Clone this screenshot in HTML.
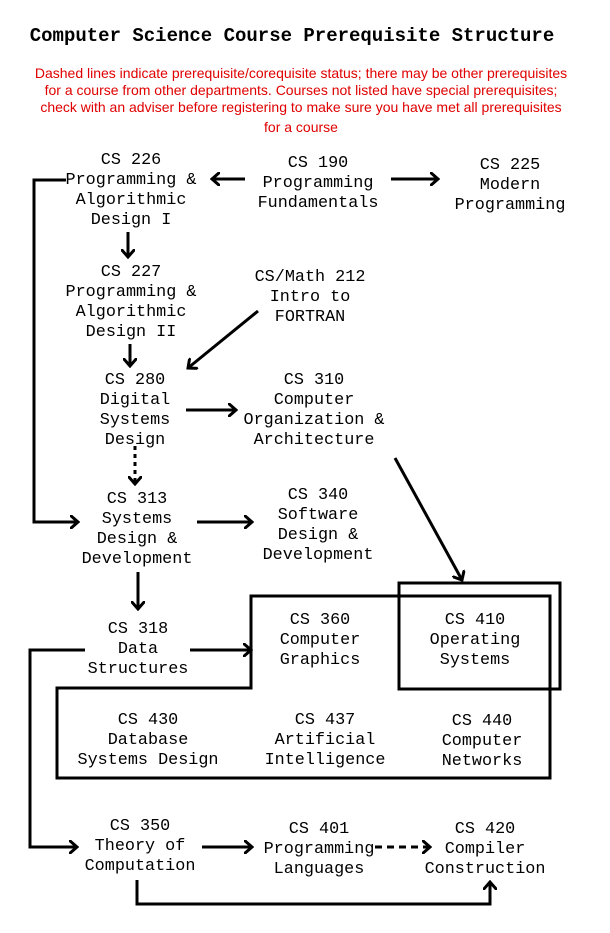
<!DOCTYPE html>
<html><head><style>body{margin:0;background:#fff}svg{display:block}</style></head><body>
<svg width="610" height="933" viewBox="0 0 610 933" xmlns="http://www.w3.org/2000/svg">
<defs><marker id="a" markerWidth="10" markerHeight="14" refX="8" refY="7" orient="auto" markerUnits="userSpaceOnUse"><path d="M0,0 L8,7 L0,14" fill="none" stroke="#000" stroke-width="3"/></marker></defs>
<text x="292" y="41" text-anchor="middle" font-family="Liberation Mono" font-weight="bold" font-size="19">Computer Science Course Prerequisite Structure</text>
<g font-family="Liberation Sans" font-size="14" fill="#e00000" text-anchor="middle">
<text x="301" y="78">Dashed lines indicate prerequisite/corequisite status; there may be other prerequisites</text>
<text x="301" y="95">for a course from other departments. Courses not listed have special prerequisites;</text>
<text x="301" y="112">check with an adviser before registering to make sure you have met all prerequisites</text>
<text x="301" y="132">for a course</text>
</g>
<g font-family="Liberation Mono" font-size="16.8" text-anchor="middle">
<text x="131" y="164">CS 226</text><text x="131" y="184">Programming &amp;</text><text x="131" y="204">Algorithmic</text><text x="131" y="224">Design I</text>
<text x="318" y="167">CS 190</text><text x="318" y="187">Programming</text><text x="318" y="207">Fundamentals</text>
<text x="510" y="169">CS 225</text><text x="510" y="189">Modern</text><text x="510" y="209">Programming</text>
<text x="131" y="276">CS 227</text><text x="131" y="296">Programming &amp;</text><text x="131" y="316">Algorithmic</text><text x="131" y="336">Design II</text>
<text x="310" y="281">CS/Math 212</text><text x="310" y="301">Intro to</text><text x="310" y="321">FORTRAN</text>
<text x="135" y="384">CS 280</text><text x="135" y="404">Digital</text><text x="135" y="424">Systems</text><text x="135" y="444">Design</text>
<text x="314" y="384">CS 310</text><text x="314" y="404">Computer</text><text x="314" y="424">Organization &amp;</text><text x="314" y="444">Architecture</text>
<text x="137" y="503">CS 313</text><text x="137" y="523">Systems</text><text x="137" y="543">Design &amp;</text><text x="137" y="563">Development</text>
<text x="318" y="499">CS 340</text><text x="318" y="519">Software</text><text x="318" y="539">Design &amp;</text><text x="318" y="559">Development</text>
<text x="138" y="633">CS 318</text><text x="138" y="653">Data</text><text x="138" y="673">Structures</text>
<text x="320" y="624">CS 360</text><text x="320" y="644">Computer</text><text x="320" y="664">Graphics</text>
<text x="475" y="624">CS 410</text><text x="475" y="644">Operating</text><text x="475" y="664">Systems</text>
<text x="148" y="724">CS 430</text><text x="148" y="744">Database</text><text x="148" y="764">Systems Design</text>
<text x="325" y="724">CS 437</text><text x="325" y="744">Artificial</text><text x="325" y="764">Intelligence</text>
<text x="482" y="725">CS 440</text><text x="482" y="745">Computer</text><text x="482" y="765">Networks</text>
<text x="140" y="830">CS 350</text><text x="140" y="850">Theory of</text><text x="140" y="870">Computation</text>
<text x="319" y="833">CS 401</text><text x="319" y="853">Programming</text><text x="319" y="873">Languages</text>
<text x="485" y="833">CS 420</text><text x="485" y="853">Compiler</text><text x="485" y="873">Construction</text>
</g>
<g fill="none" stroke="#000" stroke-width="3">
<path d="M251,596 H550 V778 H57 V688 H251 Z"/>
<rect x="399" y="583" width="161" height="106"/>
<g marker-end="url(#a)">
<path d="M245,179 H212"/>
<path d="M391,179 H438"/>
<path d="M128,232 V257"/>
<path d="M130,344 V366"/>
<path d="M258,311 L188,368"/>
<path d="M186,410 H236"/>
<path d="M135,446 V484" stroke-dasharray="4,4"/>
<path d="M66,180 H34 V522 H78"/>
<path d="M197,522 H252"/>
<path d="M138,572 V609"/>
<path d="M190,650 H251"/>
<path d="M85,650 H30 V847 H77"/>
<path d="M395,458 L462,580"/>
<path d="M202,847 H252"/>
<path d="M375,847 H430" stroke-dasharray="7,5"/>
<path d="M137,880 V904 H490 V882"/>
</g></g>
</svg>
</body></html>
